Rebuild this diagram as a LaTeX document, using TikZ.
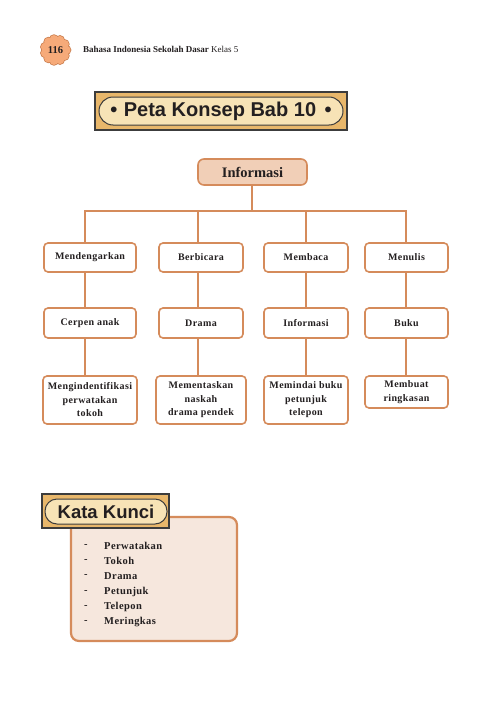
\documentclass[tikz,border=0pt]{standalone}
\usepackage{fontspec}
\setmainfont{Liberation Serif}
\newfontfamily\sansb{Liberation Sans}
\newfontfamily\boxfont{Liberation Serif}[LetterSpace=4]
\definecolor{lineor}{HTML}{D58B5B}
\definecolor{infofill}{HTML}{F1CFB7}
\definecolor{kwfill}{HTML}{F6E7DD}
\definecolor{titlefill}{HTML}{E8B76B}
\definecolor{titleinner}{HTML}{F7E3B6}
\definecolor{titleborder}{HTML}{3C3C3C}
\definecolor{badgefill}{HTML}{F6AA79}
\definecolor{badgeborder}{HTML}{C77A4A}
\definecolor{txt}{HTML}{231F20}
\tikzset{
  box/.style={draw=lineor, line width=1.6pt, fill=white, rounded corners=4pt,
    align=center, inner sep=1pt, font=\boxfont\bfseries\fontsize{10}{13.5}\selectfont, text=txt},
  conn/.style={draw=lineor, line width=1.8pt},
  kw/.style={anchor=west, font=\boxfont\bfseries\fontsize{10.5}{12}\selectfont, text=txt, inner sep=0pt}
}
\begin{document}
\begin{tikzpicture}[x=1pt,y=-1pt]
\useasboundingbox (0,0) rectangle (499,709);
\fill[white] (0,0) rectangle (499,709);

% page badge (scalloped)
\foreach \a in {0,32.727,...,359}{
  \draw[badgeborder, line width=1.4pt] ({55.5+10.8*cos(\a)},{50+10.8*sin(\a)}) circle (4.3);
}
\foreach \a in {0,32.727,...,359}{
  \fill[badgefill] ({55.5+10.8*cos(\a)},{50+10.8*sin(\a)}) circle (4.3);
}
\fill[badgefill] (55.5,50) circle (11.5);
\node[font=\bfseries\fontsize{10.5}{12}\selectfont, text=txt] (pg) at (55.5,50) {116};
\node[anchor=west, inner sep=0pt, font=\fontsize{9}{11}\selectfont, text=txt] (hdr) at (83,49)
  {\textbf{Bahasa Indonesia Sekolah Dasar} Kelas 5};

% title
\node[draw=titleborder, line width=1.2pt, fill=titlefill, minimum width=252pt, minimum height=38pt, inner sep=0pt] (tbox) at (221,111) {};
\node[draw=titleborder, line width=1pt, fill=titleinner, rounded corners=14pt, minimum width=244pt, minimum height=28pt,
  inner sep=0pt, font=\sansb\bfseries\fontsize{20}{24}\selectfont, text=txt] (title) at (221,111) {•\hspace{1pt} Peta Konsep Bab 10\hspace{3pt} •};

% top node
\node[box, fill=infofill, minimum width=109pt, minimum height=26pt, rounded corners=6pt,
  font=\bfseries\fontsize{14.5}{16}\selectfont] (info) at (252.5,172) {Informasi};

% level 1
\node[box, minimum width=92pt, minimum height=29pt] (m1) at (90,257.5) {Mendengarkan};
\node[box, minimum width=84pt, minimum height=29pt] (m2) at (201,257.5) {Berbicara};
\node[box, minimum width=84pt, minimum height=29pt] (m3) at (306,257.5) {Membaca};
\node[box, minimum width=83pt, minimum height=29pt] (m4) at (406.5,257.5) {Menulis};

% level 2
\node[box, minimum width=92pt, minimum height=30pt] (c1) at (90,323) {Cerpen anak};
\node[box, minimum width=84pt, minimum height=30pt] (c2) at (201,323) {Drama};
\node[box, minimum width=84pt, minimum height=30pt] (c3) at (306,323) {Informasi};
\node[box, minimum width=83pt, minimum height=30pt] (c4) at (406.5,323) {Buku};

% level 3
\node[box, minimum width=94pt, minimum height=48pt] (d1) at (90,400) {Mengindentifikasi\\perwatakan\\tokoh};
\node[box, minimum width=90pt, minimum height=48pt] (d2) at (201,400) {Mementaskan\\naskah\\drama pendek};
\node[box, minimum width=84pt, minimum height=48pt] (d3) at (306,400) {Memindai buku\\petunjuk\\telepon};
\node[box, minimum width=83pt, minimum height=32pt] (d4) at (406.5,392) {Membuat\\ringkasan};

% connectors
\coordinate (bus) at (252,211);
\draw[conn] (info.south -| bus) -- (bus);
\draw[conn] ([xshift=-5pt]m1.north) |- (bus);
\draw[conn] ([xshift=-0.5pt]m4.north) |- (bus);
\draw[conn] ([xshift=-3pt]m2.north) -- ([xshift=-3pt]m2.north |- bus);
\draw[conn] (m3.north) -- (m3.north |- bus);

\draw[conn] ([xshift=-5pt]m1.south) -- ([xshift=-5pt]c1.north);
\draw[conn] ([xshift=-3pt]m2.south) -- ([xshift=-3pt]c2.north);
\draw[conn] (m3.south) -- (c3.north);
\draw[conn] ([xshift=-0.5pt]m4.south) -- ([xshift=-0.5pt]c4.north);

\draw[conn] ([xshift=-5pt]c1.south) -- ([xshift=-5pt]d1.north);
\draw[conn] ([xshift=-3pt]c2.south) -- ([xshift=-3pt]d2.north);
\draw[conn] (c3.south) -- (d3.north);
\draw[conn] ([xshift=-0.5pt]c4.south) -- ([xshift=-0.5pt]d4.north);

% Kata Kunci
\node[draw=lineor, line width=2.2pt, fill=kwfill, rounded corners=8pt, minimum width=166pt, minimum height=124pt, inner sep=0pt] (kbox) at (154,579) {};
\node[draw=titleborder, line width=1.2pt, fill=titlefill, minimum width=127pt, minimum height=34pt, inner sep=0pt] (kkbox) at (105.5,511) {};
\node[draw=titleborder, line width=1pt, fill=titleinner, rounded corners=12pt, minimum width=122pt, minimum height=25pt,
  inner sep=0pt, font=\sansb\bfseries\fontsize{18.5}{22}\selectfont, text=txt] (kk) at (106,511.5) {Kata Kunci};

\foreach \w [count=\i from 0] in {Perwatakan,Tokoh,Drama,Petunjuk,Telepon,Meringkas}{
  \node[kw] (dash\i) at (84,{546+15.2*\i}) {-};
  \node[kw] (k\i) at (104,{546+15.2*\i}) {\w};
}
\end{tikzpicture}
\end{document}
